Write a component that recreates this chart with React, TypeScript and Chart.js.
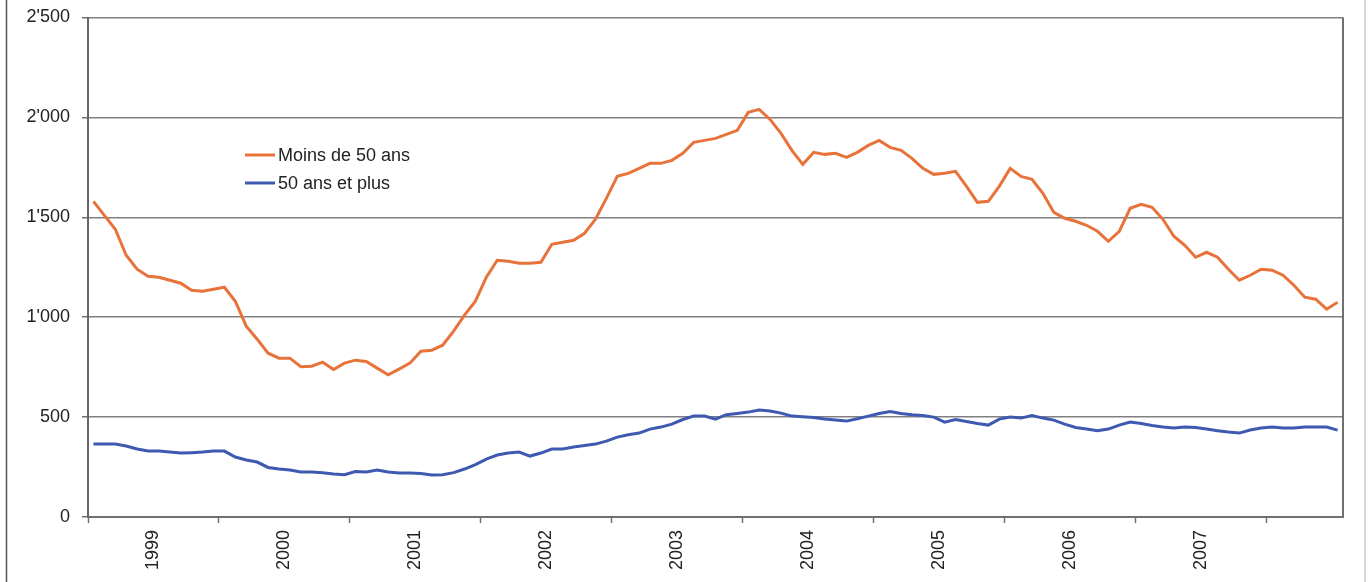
import React, { useEffect, useRef } from 'react';
import { Chart, registerables } from 'chart.js';

Chart.register(...registerables);

const yearLabels = ['1999', '2000', '2001', '2002', '2003', '2004', '2005', '2006', '2007'];
const seriesNames = ['Moins de 50 ans', '50 ans et plus'];
const seriesColors = ['#E8733A', '#3D5AB0'];

const under50 = [
  1580, 1510, 1440, 1310, 1240, 1205, 1200, 1185, 1170, 1135, 1130, 1140,
  1150, 1080, 955, 890, 820, 795, 795, 752, 755, 775, 738, 770,
  785, 778, 745, 712, 740, 770, 830, 835, 860, 930, 1010, 1080,
  1200, 1285, 1280, 1270, 1270, 1275, 1365, 1375, 1385, 1420, 1490, 1595,
  1705, 1720, 1745, 1770, 1770, 1785, 1820, 1875, 1885, 1895, 1915, 1935,
  2025, 2040, 1990, 1920, 1835, 1765, 1825, 1815, 1820, 1800, 1825, 1860,
  1885, 1850, 1835, 1795, 1745, 1715, 1720, 1730, 1655, 1575, 1580, 1655,
  1745, 1705, 1690, 1620, 1525, 1495, 1480, 1460, 1430, 1380, 1430, 1545,
  1565, 1550, 1490, 1405, 1360, 1300, 1325, 1300, 1240, 1185, 1210, 1240,
  1235, 1210, 1160, 1100, 1090, 1040, 1075,
];

const over50 = [
  365, 365, 365, 355, 340, 330, 330, 325, 320, 322, 325, 330,
  330, 300, 285, 275, 248, 240, 235, 225, 225, 222, 215, 212,
  228, 225, 235, 225, 220, 220, 218, 210, 212, 222, 240, 262,
  290, 310, 320, 325, 305, 320, 340, 340, 350, 358, 365, 380,
  400, 412, 420, 440, 450, 465, 488, 505, 505, 490, 512, 518,
  525, 535, 530, 520, 505, 502, 498, 490, 485, 480, 492, 505,
  518, 528, 518, 512, 508, 500, 475, 488, 478, 468, 460, 490,
  500, 495, 508, 495, 485, 465, 448, 440, 432, 440, 460, 475,
  468, 458, 450, 445, 450, 448, 440, 432, 425, 420, 435, 445,
  450, 445, 445, 450, 450, 450, 435,
];

const yMin = 0;
const yMax = 2500;
const yStep = 500;
const monthsPerYear = 12;

const FONT = '"Liberation Sans", Arial, sans-serif';
const TEXT = '#222222';

function fmtThousands(v: number): string {
  if (v >= 1000) {
    const th = Math.floor(v / 1000);
    const rest = String(v % 1000).padStart(3, '0');
    return `${th}'${rest}`;
  }
  return String(v);
}

const framePlugin = {
  id: 'frameAndLegend',
  afterDraw(chart: any) {
    const { ctx, chartArea } = chart;
    ctx.save();
    // right border of plot area
    ctx.strokeStyle = '#707070';
    ctx.lineWidth = 2;
    ctx.beginPath();
    ctx.moveTo(chartArea.right, chartArea.top);
    ctx.lineTo(chartArea.right, chartArea.bottom);
    ctx.stroke();
    // outer frame lines
    ctx.strokeStyle = '#555555';
    ctx.lineWidth = 1.5;
    ctx.beginPath();
    ctx.moveTo(6.5, 0);
    ctx.lineTo(6.5, chart.height);
    ctx.stroke();
    ctx.strokeStyle = '#cccccc';
    ctx.lineWidth = 1.5;
    ctx.beginPath();
    ctx.moveTo(1365, 0);
    ctx.lineTo(1365, chart.height);
    ctx.stroke();
    // legend
    const lx = chartArea.left + 157;
    const ly = 155;
    ctx.font = `18px ${FONT}`;
    ctx.textBaseline = 'middle';
    ctx.textAlign = 'left';
    chart.data.datasets.forEach((ds: any, i: number) => {
      const y = ly + i * 28;
      ctx.strokeStyle = ds.borderColor;
      ctx.lineWidth = 3;
      ctx.beginPath();
      ctx.moveTo(lx, y);
      ctx.lineTo(lx + 30, y);
      ctx.stroke();
      ctx.fillStyle = TEXT;
      ctx.fillText(ds.label, lx + 33, y + 1);
    });
    ctx.restore();
  },
};

export default function App() {
  const canvasRef = useRef<HTMLCanvasElement | null>(null);

  useEffect(() => {
    document.body.style.margin = '0';
    const canvas = canvasRef.current;
    if (!canvas) return;
    const n = under50.length;
    const chart = new Chart(canvas, {
      type: 'line',
      data: {
        datasets: [
          {
            label: seriesNames[0],
            data: under50.map((y, i) => ({ x: i, y })),
            borderColor: seriesColors[0],
            borderWidth: 3,
            pointRadius: 0,
            tension: 0,
            fill: false,
          },
          {
            label: seriesNames[1],
            data: over50.map((y, i) => ({ x: i, y })),
            borderColor: seriesColors[1],
            borderWidth: 3,
            pointRadius: 0,
            tension: 0,
            fill: false,
          },
        ],
      },
      options: {
        animation: false,
        responsive: true,
        maintainAspectRatio: false,
        layout: { padding: { left: 0, right: 25, top: 17.5, bottom: 0 } },
        plugins: {
          legend: { display: false },
          tooltip: { enabled: false },
        },
        scales: {
          x: {
            type: 'linear',
            min: -0.5,
            max: n - 0.5,
            afterBuildTicks: (scale: any) => {
              const ticks: any[] = [];
              for (let v = -0.5; v <= yearLabels.length * monthsPerYear - 0.5; v += monthsPerYear / 2) {
                ticks.push({ value: v });
              }
              scale.ticks = ticks;
            },
            afterFit: (scale: any) => {
              scale.height = 65;
              scale.paddingLeft = 0;
              scale.paddingRight = 0;
            },
            ticks: {
              autoSkip: false,
              maxRotation: 90,
              minRotation: 90,
              padding: 7,
              color: TEXT,
              font: { family: FONT, size: 18 },
              callback: (value: any) => {
                const k = (Number(value) - 5.5) / monthsPerYear;
                if (Number.isInteger(k) && k >= 0 && k < yearLabels.length) return yearLabels[k];
                return '';
              },
            },
            grid: {
              drawOnChartArea: false,
              drawTicks: true,
              tickLength: 6,
              tickWidth: 1.5,
              tickColor: (ctx: any) => {
                const v = ctx.tick ? ctx.tick.value : 0;
                return (v + 0.5) % monthsPerYear === 0 ? '#707070' : 'rgba(0,0,0,0)';
              },
            },
            border: { display: true, color: '#707070', width: 2 },
          },
          y: {
            type: 'linear',
            min: yMin,
            max: yMax,
            afterFit: (scale: any) => {
              scale.width = 88;
              scale.paddingTop = 0;
              scale.paddingBottom = 0;
            },
            ticks: {
              stepSize: yStep,
              padding: 12,
              color: TEXT,
              font: { family: FONT, size: 18 },
              callback: (value: any) => fmtThousands(Number(value)),
            },
            grid: {
              color: '#808080',
              lineWidth: 1.5,
              tickLength: 6,
              tickColor: '#707070',
            },
            border: { display: true, color: '#666666', width: 2 },
          },
        },
      },
      plugins: [framePlugin],
    });
    return () => chart.destroy();
  }, []);

  return (
    <div style={{ position: 'absolute', left: 0, top: 0, width: 1368, height: 582, background: '#ffffff' }}>
      <canvas ref={canvasRef} />
    </div>
  );
}
